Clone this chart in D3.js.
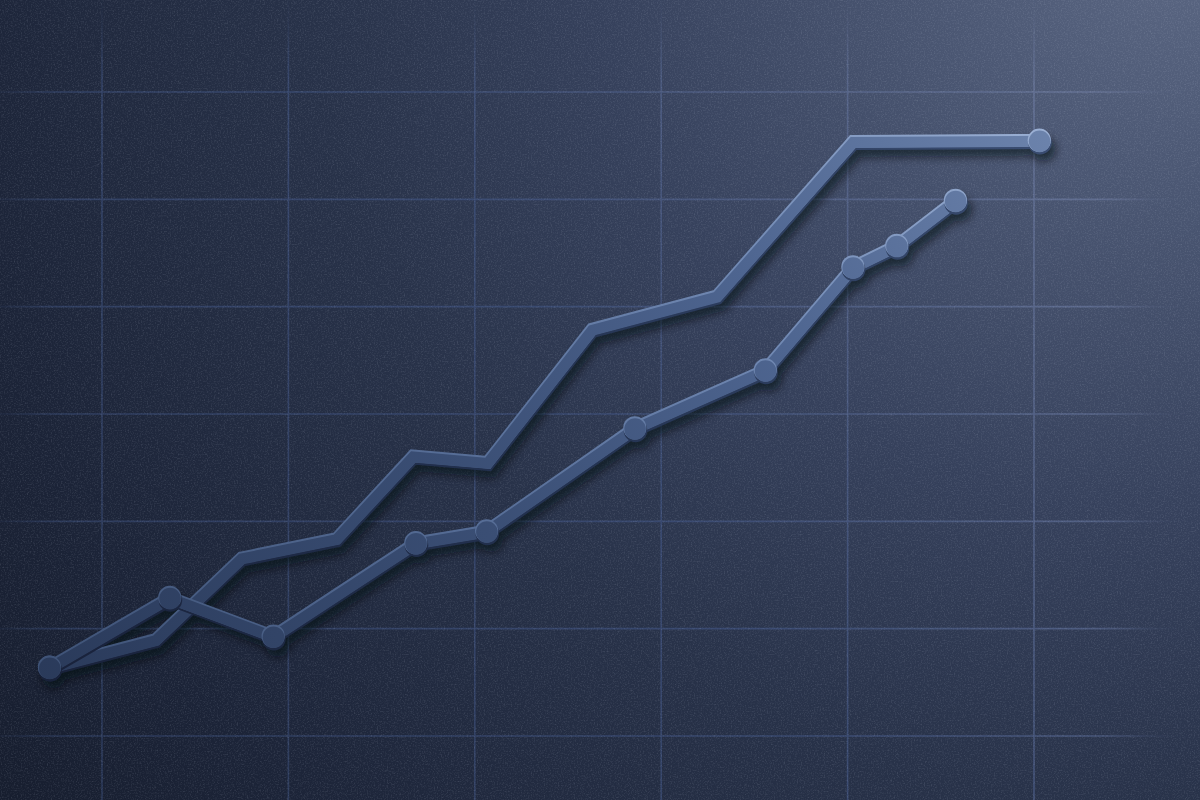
<!DOCTYPE html>
<html>
<head>
<meta charset="utf-8">
<script src="https://cdn.jsdelivr.net/npm/d3@7"></script>
<style>
  html, body { margin: 0; padding: 0; background: #1c2437; overflow: hidden; }
  svg { display: block; }
</style>
</head>
<body>
<svg id="chart" width="1200" height="800"></svg>
<script>
// ---- data ----
const gridX = [0, 10, 20, 30, 40, 50];
const gridY = [0, 10, 20, 30, 40, 50, 60];

const seriesAx = [-2.8, 2.9, 7.5, 12.6, 16.7, 20.7, 26.3, 33.0, 40.3, 50.3];
const seriesAy = [6.3, 8.9, 16.5, 18.3, 26.0, 25.4, 37.8, 40.9, 55.3, 55.4];
const seriesAmarkers = [0, 9];

const seriesBx = [-2.8, 3.65, 9.2, 16.85, 20.65, 28.6, 35.6, 40.3, 42.65, 45.8];
const seriesBy = [6.3, 12.8, 9.2, 17.9, 19.0, 28.6, 34.0, 43.6, 45.6, 49.8];

// ---- setup ----
const W = 1200, H = 800;
const svg = d3.select("#chart");
const x = d3.scaleLinear().domain([0, 50]).range([102, 1034]);
const y = d3.scaleLinear().domain([0, 60]).range([736, 92]);

const defs = svg.append("defs");

function linGrad(id, x1, y1, x2, y2, stops) {
  const g = defs.append("linearGradient").attr("id", id)
    .attr("gradientUnits", "userSpaceOnUse")
    .attr("x1", x1).attr("y1", y1).attr("x2", x2).attr("y2", y2);
  stops.forEach(([o, c]) => g.append("stop").attr("offset", o).attr("stop-color", c));
}

// background gradient (light from top-right)
const bg = defs.append("radialGradient").attr("id", "bg")
  .attr("gradientUnits", "userSpaceOnUse")
  .attr("cx", 1180).attr("cy", -60).attr("r", 1450);
[[0, "#5b6783"], [0.15, "#4d5975"], [0.4, "#36415c"], [0.6, "#283249"], [0.85, "#1c2438"], [1, "#171e2f"]]
  .forEach(([o, c]) => bg.append("stop").attr("offset", o).attr("stop-color", c));

// line body / rims
linGrad("lineGrad", 40, 690, 1060, 120,
  [[0, "#2a3a5a"], [0.4, "#3a4e74"], [0.7, "#4e6590"], [1, "#6d84ad"]]);
linGrad("lineLight", 40, 690, 1060, 120,
  [[0, "#3e5276"], [0.4, "#566d96"], [0.7, "#7189b3"], [1, "#9db2d6"]]);
linGrad("lineDark", 40, 690, 1060, 120,
  [[0, "#18213a"], [0.5, "#243352"], [1, "#3a4d72"]]);

// grid gradient
linGrad("gridGrad", 0, 800, 1200, 0,
  [[0, "#2a3858"], [0.5, "#3b4c74"], [1, "#7480a2"]]);

// grid fade mask
const mf = defs.append("filter").attr("id", "maskBlur")
  .attr("filterUnits", "userSpaceOnUse").attr("x", -100).attr("y", -100).attr("width", 1400).attr("height", 1000);
mf.append("feGaussianBlur").attr("stdDeviation", 28);
const mask = defs.append("mask").attr("id", "gridMask")
  .attr("maskUnits", "userSpaceOnUse").attr("x", 0).attr("y", 0).attr("width", W).attr("height", H);
mask.append("rect").attr("x", 20).attr("y", 45).attr("width", 1110).attr("height", 820)
  .attr("fill", "white").attr("filter", "url(#maskBlur)");

// noise texture
const nf = defs.append("filter").attr("id", "noise")
  .attr("filterUnits", "userSpaceOnUse").attr("x", 0).attr("y", 0).attr("width", W).attr("height", H);
nf.append("feTurbulence").attr("type", "fractalNoise").attr("baseFrequency", 0.7)
  .attr("numOctaves", 3).attr("seed", 4).attr("result", "t");
nf.append("feColorMatrix").attr("type", "matrix")
  .attr("values", "0 0 0 0 0.7  0 0 0 0 0.76  0 0 0 0 0.88  0.9 0 0 0 -0.42");

// shadow blur
const sf = defs.append("filter").attr("id", "shadow")
  .attr("filterUnits", "userSpaceOnUse").attr("x", 0).attr("y", 0).attr("width", W).attr("height", H);
sf.append("feGaussianBlur").attr("stdDeviation", 5);

// ---- background ----
svg.append("rect").attr("width", W).attr("height", H).attr("fill", "url(#bg)");

// ---- grid ----
const grid = svg.append("g").attr("mask", "url(#gridMask)")
  .attr("stroke", "url(#gridGrad)").attr("stroke-width", 1.6).attr("opacity", 0.9);
grid.selectAll("line.v").data(gridX).join("line").attr("class", "v")
  .attr("x1", d => x(d)).attr("x2", d => x(d)).attr("y1", 0).attr("y2", H);
grid.selectAll("line.h").data(gridY).join("line").attr("class", "h")
  .attr("y1", d => y(d)).attr("y2", d => y(d)).attr("x1", 0).attr("x2", W);

// noise overlay
svg.append("rect").attr("width", W).attr("height", H).attr("fill", "#000")
  .attr("filter", "url(#noise)").attr("opacity", 0.35);

// ---- lines ----
const line = d3.line().x(d => x(d[0])).y(d => y(d[1]));
const dataA = seriesAx.map((v, i) => [v, seriesAy[i]]);
const dataB = seriesBx.map((v, i) => [v, seriesBy[i]]);

const series = [
  { data: dataA, markers: seriesAmarkers },
  { data: dataB, markers: d3.range(dataB.length) }
];

// shadows for all marks first
const shadowG = svg.append("g").attr("filter", "url(#shadow)").attr("opacity", 0.6)
  .attr("transform", "translate(4,8)");
series.forEach(s => {
  shadowG.append("path").datum(s.data).attr("d", line).attr("fill", "none")
    .attr("stroke", "#05080f").attr("stroke-width", 13).attr("stroke-linejoin", "miter");
  shadowG.selectAll(null).data(s.markers.map(i => s.data[i])).join("circle")
    .attr("cx", d => x(d[0])).attr("cy", d => y(d[1])).attr("r", 12).attr("fill", "#05080f");
});

const layers = [
  { dx: 0.4, dy: 1.4, stroke: "url(#lineDark)", w: 12.5, r: 11.8 },
  { dx: -0.3, dy: -1.2, stroke: "url(#lineLight)", w: 12.5, r: 11.6 },
  { dx: 0, dy: 0, stroke: "url(#lineGrad)", w: 11, r: 10.8 }
];

series.forEach(s => {
  const g = svg.append("g");
  layers.forEach(L => {
    const lg = g.append("g").attr("transform", `translate(${L.dx},${L.dy})`);
    lg.append("path").datum(s.data).attr("d", line).attr("fill", "none")
      .attr("stroke", L.stroke).attr("stroke-width", L.w)
      .attr("stroke-linejoin", "miter").attr("stroke-miterlimit", 4);
  });
  layers.forEach(L => {
    const mg = g.append("g").attr("transform", `translate(${L.dx},${L.dy})`);
    mg.selectAll("circle").data(s.markers.map(i => s.data[i])).join("circle")
      .attr("cx", d => x(d[0])).attr("cy", d => y(d[1])).attr("r", L.r)
      .attr("fill", L.stroke);
  });
});
</script>
</body>
</html>
